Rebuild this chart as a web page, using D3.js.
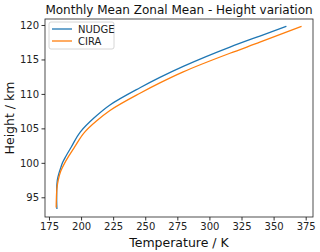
<!DOCTYPE html>
<html>
<head>
<meta charset="utf-8">
<script src="https://cdnjs.cloudflare.com/ajax/libs/d3/7.8.5/d3.min.js"></script>
<style>
  * { margin: 0; padding: 0; }
  body { background: #fff; width: 320px; height: 252px; overflow: hidden; }
  svg { font-family: "DejaVu Sans", sans-serif; display: block; }
</style>
</head>
<body>
<div id="chart"></div>
<script>
// Data: height (km) and temperature (K) per series
const nudgeHeight = [93.3, 94.5, 96.0, 97.5, 98.5, 99.3, 100.0, 101.0, 102.3, 104.5, 106.5, 108.4, 110.9, 112.4, 114.0, 116.8, 118.4, 119.8];
const nudgeTemp   = [181.2, 181.0, 181.0, 181.5, 182.8, 184.2, 185.5, 188.3, 192.4, 199.5, 210.0, 222.5, 245.9, 261.4, 279.6, 316.0, 339.3, 360.0];
const ciraHeight  = [93.5, 95.0, 96.3, 97.5, 98.8, 100.0, 101.0, 102.3, 104.5, 106.0, 107.6, 110.1, 111.6, 113.2, 115.9, 117.5, 119.8];
const ciraTemp    = [180.6, 180.8, 181.2, 182.2, 184.2, 187.3, 190.5, 195.0, 203.0, 211.5, 222.5, 245.9, 261.4, 279.6, 316.0, 339.3, 371.8];
const seriesNames = ["NUDGE", "CIRA"];
const xTicks = [175, 200, 225, 250, 275, 300, 325, 350, 375];
const yTicks = [95, 100, 105, 110, 115, 120];

const width = 320, height = 252;
const margin = {top: 19, right: 7, bottom: 35, left: 45};
const colors = ["#1f77b4", "#ff7f0e"];

const svg = d3.select("#chart").append("svg")
    .attr("width", width)
    .attr("height", height);

const x = d3.scaleLinear()
    .domain([171.9, 380.7])
    .range([margin.left, width - margin.right]);

const y = d3.scaleLinear()
    .domain([92.14, 120.87])
    .range([height - margin.bottom, margin.top]);

// Axes
const xAxis = svg.append("g")
    .attr("transform", "translate(0," + (height - margin.bottom) + ")")
    .call(d3.axisBottom(x).tickValues(xTicks).tickSize(3.5).tickPadding(2.5));

const yAxis = svg.append("g")
    .attr("transform", "translate(" + margin.left + ",0)")
    .call(d3.axisLeft(y).tickValues(yTicks).tickSize(3.5).tickPadding(2.5));

[xAxis, yAxis].forEach(function(g) {
    g.select(".domain").remove();
    g.selectAll(".tick line").attr("stroke", "#000").attr("stroke-width", 0.8);
    g.selectAll(".tick text")
        .attr("fill", "#222")
        .style("font-size", "10px")
        .style("font-family", "'DejaVu Sans', sans-serif");
});

// Lines
const series = [
    {name: seriesNames[0], h: nudgeHeight, t: nudgeTemp},
    {name: seriesNames[1], h: ciraHeight, t: ciraTemp}
];

const line = d3.line()
    .x(function(d) { return x(d[0]); })
    .y(function(d) { return y(d[1]); })
    .curve(d3.curveMonotoneY);

series.forEach(function(s, i) {
    const pts = s.h.map(function(h, j) { return [s.t[j], h]; });
    svg.append("path")
        .datum(pts)
        .attr("fill", "none")
        .attr("stroke", colors[i])
        .attr("stroke-width", 1.3)
        .attr("d", line);
});

// Frame
svg.append("rect")
    .attr("x", margin.left)
    .attr("y", margin.top)
    .attr("width", width - margin.left - margin.right)
    .attr("height", height - margin.top - margin.bottom)
    .attr("fill", "none")
    .attr("stroke", "#222")
    .attr("stroke-width", 0.8);

// Title and axis labels
svg.append("text")
    .attr("x", (margin.left + width - margin.right) / 2)
    .attr("y", 14)
    .attr("text-anchor", "middle")
    .style("font-size", "12px")
    .attr("fill", "#111")
    .text("Monthly Mean Zonal Mean - Height variation");

svg.append("text")
    .attr("x", (margin.left + width - margin.right) / 2)
    .attr("y", 247)
    .attr("text-anchor", "middle")
    .style("font-size", "12.5px")
    .attr("fill", "#111")
    .text("Temperature / K");

svg.append("text")
    .attr("transform", "translate(14," + ((margin.top + height - margin.bottom) / 2) + ") rotate(-90)")
    .attr("text-anchor", "middle")
    .style("font-size", "12.5px")
    .attr("fill", "#111")
    .text("Height / km");

// Legend
const legend = svg.append("g").attr("transform", "translate(49,22)");
legend.append("rect")
    .attr("width", 65)
    .attr("height", 27)
    .attr("rx", 2)
    .attr("fill", "#fff")
    .attr("fill-opacity", 0.8)
    .attr("stroke", "#ccc")
    .attr("stroke-width", 0.8);

seriesNames.forEach(function(name, i) {
    legend.append("line")
        .attr("x1", 3).attr("x2", 23)
        .attr("y1", 7 + i * 12).attr("y2", 7 + i * 12)
        .attr("stroke", colors[i])
        .attr("stroke-width", 1.3);
    legend.append("text")
        .attr("x", 29)
        .attr("y", 7 + i * 12 + 3.5)
        .style("font-size", "10px")
        .attr("fill", "#222")
        .text(name);
});
</script>
</body>
</html>
